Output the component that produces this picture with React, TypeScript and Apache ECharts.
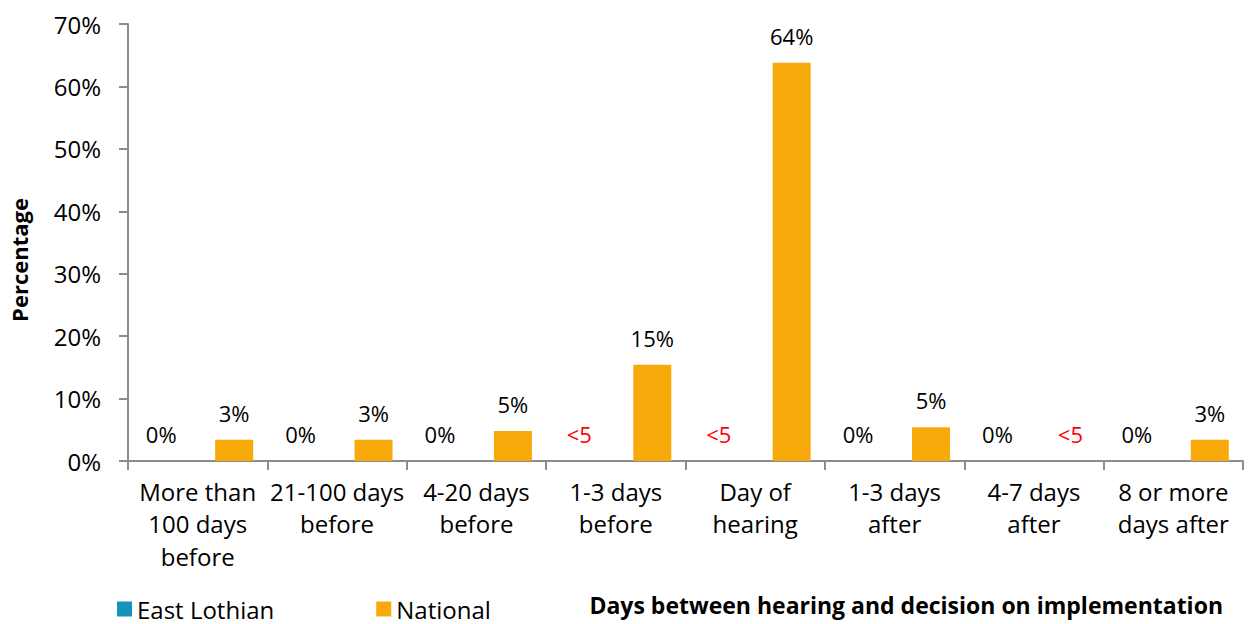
import React, { useEffect, useRef } from "react";
import * as echarts from "echarts";

const categories: string[] = [
  "More than\n100 days\nbefore",
  "21-100 days\nbefore",
  "4-20 days\nbefore",
  "1-3 days\nbefore",
  "Day of\nhearing",
  "1-3 days\nafter",
  "4-7 days\nafter",
  "8 or more\ndays after",
];

// null = suppressed value shown as "<5"
const eastLothianValues: (number | null)[] = [0, 0, 0, null, null, 0, 0, 0];
const nationalValues: (number | null)[] = [3.4, 3.4, 4.8, 15.4, 63.8, 5.4, null, 3.4];

const yTicks = { min: 0, max: 70, interval: 10 };

const FONT = "Open Sans";
const BLUE = "#1593B9";
const ORANGE = "#F8AA0B";
const AXIS = "#8C8C8C";

function toData(values: (number | null)[]) {
  return values.map((v) => ({
    value: v === null ? 0 : v,
    label: {
      formatter: v === null ? "<5" : Math.round(v) + "%",
      color: v === null ? "#FF0000" : "#000000",
    },
  }));
}

export default function App() {
  const ref = useRef<HTMLDivElement>(null);
  useEffect(() => {
    if (!ref.current) return;
    const chart = echarts.init(ref.current, null, { renderer: "svg" });
    const labelCfg = {
      show: true,
      position: "top",
      distance: 15,
      fontFamily: FONT,
      fontSize: 22,
      lineHeight: 24,
    };
    chart.setOption({
      animation: false,
      textStyle: { fontFamily: FONT },
      grid: { left: 128, right: 5, top: 24, bottom: 163, containLabel: false },
      title: {
        text: "Days between hearing and decision on implementation",
        right: 20,
        top: 585,
        textStyle: { fontFamily: FONT, fontSize: 23, fontWeight: "bold", color: "#000", lineHeight: 30 },
      },
      graphic: [
        {
          type: "text",
          x: 19,
          y: 260,
          rotation: Math.PI / 2,
          style: {
            text: "Percentage",
            fontFamily: FONT,
            fontSize: 22,
            fontWeight: "bold",
            fill: "#000",
            align: "center",
            verticalAlign: "middle",
          },
        },
      ],
      legend: {
        left: 112,
        top: 592,
        itemWidth: 15,
        itemHeight: 15,
        itemGap: 102,
        icon: "rect",
        textStyle: { fontFamily: FONT, fontSize: 24, color: "#000" },
        data: ["East Lothian", "National"],
      },
      xAxis: {
        type: "category",
        data: categories,
        axisLine: { lineStyle: { color: AXIS, width: 2 } },
        axisTick: { show: true, length: 9, lineStyle: { color: AXIS, width: 2 } },
        axisLabel: {
          color: "#000",
          fontFamily: FONT,
          fontSize: 24,
          lineHeight: 32.5,
          margin: 14,
          interval: 0,
        },
      },
      yAxis: {
        type: "value",
        min: yTicks.min,
        max: yTicks.max,
        interval: yTicks.interval,
        splitLine: { show: false },
        axisLine: { show: true, lineStyle: { color: AXIS, width: 2 } },
        axisTick: { show: true, length: 9, lineStyle: { color: AXIS, width: 2 } },
        axisLabel: {
          color: "#000",
          fontFamily: FONT,
          fontSize: 24,
          margin: 27,
          formatter: (v: number) => v + "%",
        },
      },
      series: [
        {
          name: "East Lothian",
          type: "bar",
          barWidth: 38,
          barGap: "92%",
          itemStyle: { color: BLUE },
          label: labelCfg,
          data: toData(eastLothianValues),
        },
        {
          name: "National",
          type: "bar",
          barWidth: 38,
          itemStyle: { color: ORANGE },
          label: labelCfg,
          data: toData(nationalValues),
        },
      ],
    });
    return () => chart.dispose();
  }, []);
  return (
    <div
      ref={ref}
      style={{ position: "absolute", left: 0, top: 0, width: 1248, height: 624 }}
    />
  );
}
